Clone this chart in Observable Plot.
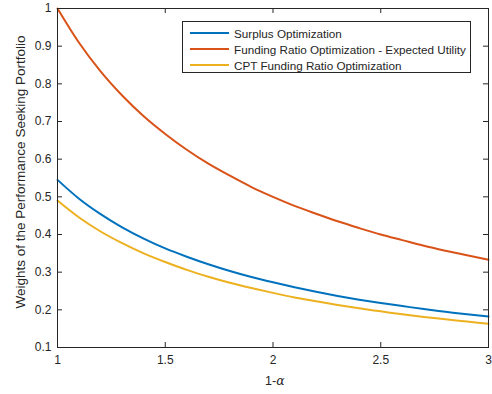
<!DOCTYPE html>
<html>
<head>
<meta charset="utf-8">
<script src="https://cdn.jsdelivr.net/npm/d3@7"></script>
<script src="https://cdn.jsdelivr.net/npm/@observablehq/plot@0.6"></script>
<style>
  html, body { margin: 0; padding: 0; background: #fff; }
  #chart { position: relative; width: 492px; height: 394px; font-family: "Liberation Sans", Arial, Helvetica, sans-serif; }
  #legend { position: absolute; left: 182px; top: 21px; width: 289px; height: 52px; border: 1px solid #262626; background: #fff; box-sizing: border-box; font-size: 11.7px; color: #262626; }
  .row { position: absolute; left: 7px; height: 14px; display: flex; align-items: center; white-space: nowrap; }
  .row .sw { width: 39px; height: 0; border-top: 2px solid; margin-right: 5px; }
  .xlab { position: absolute; top: 373px; left: 265px; font-size: 12.5px; color: #262626; }
  .xlab i { font-family: "DejaVu Serif", serif; font-size: 12.5px; }
</style>
</head>
<body>
<div id="chart"></div>
<script>
// 1 - alpha
const alphaGrid = [1.0, 1.1, 1.2, 1.3, 1.4, 1.5, 1.6, 1.7, 1.8, 1.9, 2.0, 2.1, 2.2, 2.3, 2.4, 2.5, 2.6, 2.7, 2.8, 2.9, 3.0];

// portfolio weights of the performance seeking asset
const surplusWeights = [0.545, 0.495, 0.454, 0.419, 0.389, 0.363, 0.341, 0.321, 0.303, 0.287, 0.273, 0.260, 0.248, 0.237, 0.227, 0.218, 0.210, 0.202, 0.195, 0.188, 0.182];
const fundingEUWeights = [1.000, 0.909, 0.833, 0.769, 0.714, 0.667, 0.625, 0.588, 0.556, 0.526, 0.500, 0.476, 0.455, 0.435, 0.417, 0.400, 0.385, 0.370, 0.357, 0.345, 0.333];
const cptWeights = [0.490, 0.445, 0.408, 0.377, 0.350, 0.327, 0.306, 0.288, 0.272, 0.258, 0.245, 0.233, 0.223, 0.213, 0.204, 0.196, 0.188, 0.181, 0.175, 0.169, 0.163];

const seriesNames = ["Surplus Optimization", "Funding Ratio Optimization - Expected Utility", "CPT Funding Ratio Optimization"];
const seriesColors = ["#0072BD", "#D95319", "#EDB120"];

const xTicks = [1, 1.5, 2, 2.5, 3];
const yTicks = [0.1, 0.2, 0.3, 0.4, 0.5, 0.6, 0.7, 0.8, 0.9, 1];
const yTitle = "Weights of the Performance Seeking Portfolio";

const seriesValues = [surplusWeights, fundingEUWeights, cptWeights];
const rows = seriesValues.flatMap((vals, s) =>
  vals.map((v, i) => ({x: alphaGrid[i], y: v, series: seriesNames[s]})));

const fmt = d => String(+d.toFixed(2));
const axisColor = "#262626";
const marginTop = 8, marginBottom = 47, marginLeft = 57, marginRight = 4;
const H = 394, W = 492;
const innerH = H - marginTop - marginBottom;
const innerW = W - marginLeft - marginRight;
const tickLen = 5;

const plot = Plot.plot({
  width: W,
  height: H,
  marginTop, marginBottom, marginLeft, marginRight,
  style: {fontFamily: '"Liberation Sans", Arial, Helvetica, sans-serif', fontSize: "12px", color: axisColor, background: "#fff"},
  x: {domain: [1, 3]},
  y: {domain: [0.1, 1]},
  color: {domain: seriesNames, range: seriesColors},
  marks: [
    Plot.axisX(xTicks, {tickSize: 0, tickPadding: 8, tickFormat: fmt, label: null, fontSize: 12}),
    Plot.axisY(yTicks, {tickSize: 0, tickPadding: 6, tickFormat: fmt, label: null, fontSize: 12}),
    // rotated y-axis title
    Plot.text([yTitle], {text: d => d, frameAnchor: "left", textAnchor: "middle", rotate: -90, dx: -37, dy: -6, fontSize: 13.5, fill: axisColor}),
    // inward ticks on all four sides
    Plot.tickX(xTicks, {x: d => d, insetTop: innerH - tickLen, stroke: axisColor}),
    Plot.tickX(xTicks, {x: d => d, insetBottom: innerH - tickLen, stroke: axisColor}),
    Plot.tickY(yTicks, {y: d => d, insetRight: innerW - tickLen, stroke: axisColor}),
    Plot.tickY(yTicks, {y: d => d, insetLeft: innerW - tickLen, stroke: axisColor}),
    Plot.line(rows, {x: "x", y: "y", z: "series", stroke: "series", strokeWidth: 2, curve: "monotone-x"}),
    Plot.frame({stroke: axisColor, strokeWidth: 1})
  ]
});

const chart = document.getElementById("chart");
chart.appendChild(plot);

const legend = document.createElement("div");
legend.id = "legend";
seriesNames.forEach((name, i) => {
  const row = document.createElement("div");
  row.className = "row";
  row.style.top = (4 + i * 16) + "px";
  const sw = document.createElement("span");
  sw.className = "sw";
  sw.style.borderTopColor = seriesColors[i];
  const label = document.createElement("span");
  label.textContent = name;
  row.appendChild(sw);
  row.appendChild(label);
  legend.appendChild(row);
});
chart.appendChild(legend);

const xlab = document.createElement("div");
xlab.className = "xlab";
xlab.innerHTML = "1-<i>α</i>";
chart.appendChild(xlab);
</script>
</body>
</html>
